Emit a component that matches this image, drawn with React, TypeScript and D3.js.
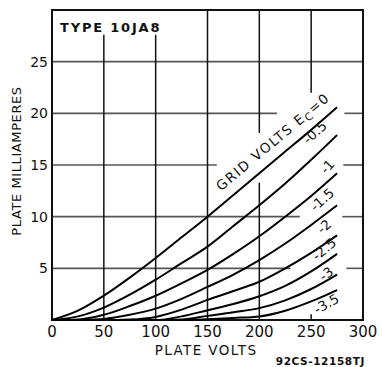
import React from "react";
import * as d3 from "d3";

// Plate voltage sample points (V)
const PLATE_VOLTS = [0, 25, 50, 75, 100, 125, 150, 175, 200, 225, 250, 275];

// Plate current (mA) for each grid voltage
const EC_0 = [0, 0.9, 2.35, 4.1, 6.0, 8.0, 10.0, 12.1, 14.2, 16.3, 18.4, 20.6];
const EC_M05 = [0, 0.35, 1.2, 2.45, 3.9, 5.5, 7.1, 9.1, 11.1, 13.2, 15.5, 17.9];
const EC_M1 = [0, 0.05, 0.5, 1.35, 2.35, 3.55, 4.85, 6.4, 8.1, 10.0, 12.0, 14.2];
const EC_M15 = [0, 0, 0.1, 0.5, 1.1, 2.05, 3.2, 4.4, 5.8, 7.4, 9.2, 11.1];
const EC_M2 = [0, 0, 0, 0.05, 0.3, 1.0, 1.95, 2.8, 3.7, 5.0, 6.5, 8.2];
const EC_M25 = [0, 0, 0, 0, 0, 0.35, 0.95, 1.55, 2.3, 3.3, 4.7, 6.4];
const EC_M3 = [0, 0, 0, 0, 0, 0.05, 0.4, 0.75, 1.15, 1.9, 3.0, 4.4];
const EC_M35 = [0, 0, 0, 0, 0, 0, 0.08, 0.2, 0.35, 0.9, 1.8, 2.9];

const SERIES = [EC_0, EC_M05, EC_M1, EC_M15, EC_M2, EC_M25, EC_M3, EC_M35];

// Tick labels
const X_TICKS = [0, 50, 100, 150, 200, 250, 300];
const Y_TICKS = [5, 10, 15, 20, 25];

// Curve labels: text, anchor (volts, mA), rotation
const CURVE_LABELS = ["-0.5", "-1", "-1.5", "-2", "-2.5", "-3", "-3.5"];
const LABEL_VOLTS = [254, 266, 261, 263, 263, 265, 265];
const LABEL_MA = [18.1, 14.8, 11.6, 9.0, 6.8, 4.4, 1.5];
const LABEL_ANGLE = [-42, -48, -42, -42, -40, -36, -30];

// Gridline segments in data units (breaks where labels sit)
const H_GRID = [25, 20, 15, 10, 5];
const H_GRID_SEGS = [
  [[0, 300]],
  [[0, 217], [282, 300]],
  [[0, 159], [281, 300]],
  [[0, 239], [280, 300]],
  [[0, 230], [284, 300]],
];
const V_GRID = [50, 100, 150, 200, 250];
const V_GRID_SEGS = [
  [[0, 27.6]],
  [[0, 27.6]],
  [[0, 30]],
  [[0, 13.3], [18.1, 30]],
  [[0, 0.55], [22, 30]],
];

const W = 382;
const H = 367;
const FONT = "'DejaVu Sans', 'Liberation Sans', sans-serif";

export default function App() {
  const x = d3.scaleLinear().domain([0, 300]).range([52, 363]);
  const y = d3.scaleLinear().domain([0, 30]).range([320, 10]);
  const line = d3
    .line<number>()
    .x((_, i) => x(PLATE_VOLTS[i]))
    .y((d) => y(d))
    .curve(d3.curveMonotoneX);

  return (
    <svg
      width={W}
      height={H}
      style={{ position: "absolute", left: 0, top: 0, background: "#fff" }}
      fontFamily={FONT}
    >
      <rect width={W} height={H} fill="#fff" />
      {/* horizontal gridlines */}
      {H_GRID.map((v, i) =>
        H_GRID_SEGS[i].map((s, j) => (
          <line
            key={`h${i}-${j}`}
            x1={x(s[0])}
            x2={x(s[1])}
            y1={y(v)}
            y2={y(v)}
            stroke="#555"
            strokeWidth={1.6}
          />
        ))
      )}
      {/* vertical gridlines */}
      {V_GRID.map((v, i) =>
        V_GRID_SEGS[i].map((s, j) => (
          <line
            key={`v${i}-${j}`}
            x1={x(v)}
            x2={x(v)}
            y1={y(s[0])}
            y2={y(s[1])}
            stroke="#111"
            strokeWidth={1.5}
          />
        ))
      )}
      {/* frame */}
      <rect
        x={x(0)}
        y={y(30)}
        width={x(300) - x(0)}
        height={y(0) - y(30)}
        fill="none"
        stroke="#111"
        strokeWidth={2}
      />
      {/* curves */}
      {SERIES.map((s, i) => (
        <path key={`c${i}`} d={line(s) || ""} fill="none" stroke="#000" strokeWidth={2} />
      ))}
      {/* title */}
      <text x={60} y={31.5} fontSize={13} fontWeight="bold" letterSpacing={1.8} fill="#111">
        TYPE 10JA8
      </text>
      {/* y ticks */}
      {Y_TICKS.map((t) => (
        <text key={`yt${t}`} x={48} y={y(t) + 5} fontSize={14} textAnchor="end" fill="#111">
          {t}
        </text>
      ))}
      {/* x ticks */}
      {X_TICKS.map((t) => (
        <text key={`xt${t}`} x={x(t)} y={337} fontSize={15} textAnchor="middle" fill="#111">
          {t}
        </text>
      ))}
      <text x={206} y={355} fontSize={13.5} textAnchor="middle" letterSpacing={1.4} fill="#111">
        PLATE VOLTS
      </text>
      <text x={365} y={365} fontSize={10.5} fontWeight="bold" textAnchor="end" letterSpacing={0.6} fill="#111">
        92CS-12158TJ
      </text>
      <text
        transform="translate(21,161) rotate(-90)"
        fontSize={13}
        textAnchor="middle"
        letterSpacing={0.6}
        fill="#111"
      >
        PLATE MILLIAMPERES
      </text>
      {/* Ec = 0 label */}
      <text
        transform={`translate(${x(216)},${y(16.9)}) rotate(-40)`}
        fontSize={13.5}
        textAnchor="middle"
        letterSpacing={1.5}
        fill="#111"
      >
        GRID VOLTS E
        <tspan fontSize={10.5} dy={3}>C</tspan>
        <tspan dy={-3}>=0</tspan>
      </text>
      {CURVE_LABELS.map((t, i) => (
        <text
          key={`cl${i}`}
          transform={`translate(${x(LABEL_VOLTS[i])},${y(LABEL_MA[i])}) rotate(${LABEL_ANGLE[i]})`}
          fontSize={13.5}
          textAnchor="middle"
          dy={4}
          fill="#111"
        >
          {t}
        </text>
      ))}
    </svg>
  );
}
